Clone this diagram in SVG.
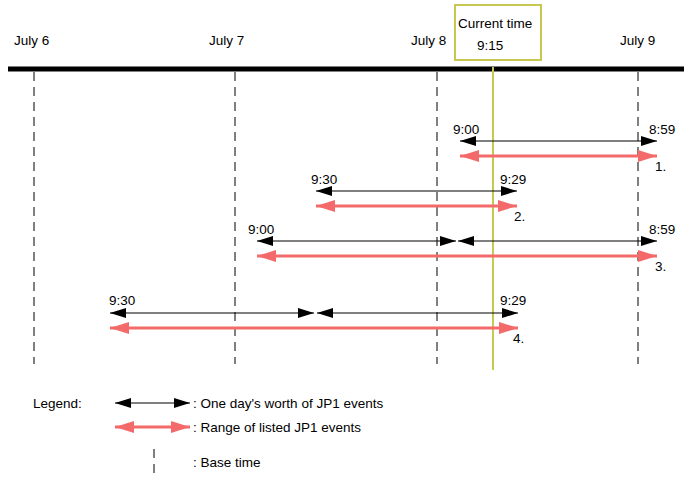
<svg xmlns="http://www.w3.org/2000/svg" width="692" height="481" viewBox="0 0 692 481">
<style>
text{font-family:"Liberation Sans",Arial,sans-serif;font-size:13.5px;fill:#000}
.base{stroke:#000;stroke-width:1;stroke-dasharray:9,6;fill:none}
.blk{stroke:#000;stroke-width:1.2;fill:none;marker-start:url(#hb);marker-end:url(#hb)}
.red{stroke:#f46a6a;stroke-width:3;fill:none;marker-start:url(#hr);marker-end:url(#hr)}
.cur{stroke:#c8c850;stroke-width:2;fill:none}
</style>
<defs>
<marker id="hb" markerUnits="userSpaceOnUse" markerWidth="16" markerHeight="10" refX="16" refY="5" orient="auto-start-reverse" viewBox="0 0 16 10"><path d="M0,0 L16,5 L0,10 z" fill="#000"/></marker>
<marker id="hr" markerUnits="userSpaceOnUse" markerWidth="19" markerHeight="12" refX="19" refY="6" orient="auto-start-reverse" viewBox="0 0 19 12"><path d="M0,0 L19,6 L0,12 z" fill="#f46a6a"/></marker>
</defs>
<rect width="692" height="481" fill="#fff"/>
<g id="timeline">
<line x1="8" y1="69" x2="684" y2="69" stroke="#000" stroke-width="5"/>
<text x="14" y="45">July 6</text>
<text x="209" y="45">July 7</text>
<text x="411" y="45">July 8</text>
<text x="620" y="45">July 9</text>
</g>
<g id="base-lines">
<line class="base" x1="34" y1="72" x2="34" y2="364"/>
<line class="base" x1="235" y1="72" x2="235" y2="364"/>
<line class="base" x1="437" y1="72" x2="437" y2="364"/>
<line class="base" x1="638" y1="72" x2="638" y2="364"/>
</g>
<g id="current-time">
<rect x="455" y="5" width="86" height="55" fill="none" stroke="#c8c850" stroke-width="2"/>
<text x="458" y="28">Current time</text>
<text x="477" y="50">9:15</text>
<line class="cur" x1="493" y1="67" x2="493" y2="370"/>
</g>
<g id="connectors">
<line class="blk" x1="460" y1="141" x2="657" y2="141"/>
<line class="red" x1="460" y1="156" x2="657" y2="156"/>
<line class="blk" x1="316" y1="191" x2="517" y2="191"/>
<line class="red" x1="316" y1="206" x2="517" y2="206"/>
<line class="blk" x1="257" y1="241" x2="456" y2="241"/>
<line class="blk" x1="458" y1="241" x2="657" y2="241"/>
<line class="red" x1="257" y1="256" x2="657" y2="256"/>
<line class="blk" x1="110" y1="313" x2="314" y2="313"/>
<line class="blk" x1="317" y1="313" x2="518" y2="313"/>
<line class="red" x1="110" y1="328" x2="518" y2="328"/>
</g>
<g id="row1">
<text x="453" y="134">9:00</text>
<text x="649" y="134">8:59</text>
<text x="655" y="171">1.</text>
</g>
<g id="row2">
<text x="311" y="184">9:30</text>
<text x="500" y="184">9:29</text>
<text x="514" y="221">2.</text>
</g>
<g id="row3">
<text x="248" y="234">9:00</text>
<text x="649" y="234">8:59</text>
<text x="655" y="271">3.</text>
</g>
<g id="row4">
<text x="109" y="305">9:30</text>
<text x="500" y="305">9:29</text>
<text x="513" y="343">4.</text>
</g>
<g id="legend">
<text x="33" y="408">Legend:</text>
<line class="blk" x1="115" y1="403" x2="190" y2="403"/>
<text x="193" y="408">: One day's worth of JP1 events</text>
<line class="red" x1="115" y1="427" x2="190" y2="427"/>
<text x="193" y="432">: Range of listed JP1 events</text>
<line class="base" x1="154" y1="449" x2="154" y2="476"/>
<text x="193" y="467">: Base time</text>
</g>
</svg>
